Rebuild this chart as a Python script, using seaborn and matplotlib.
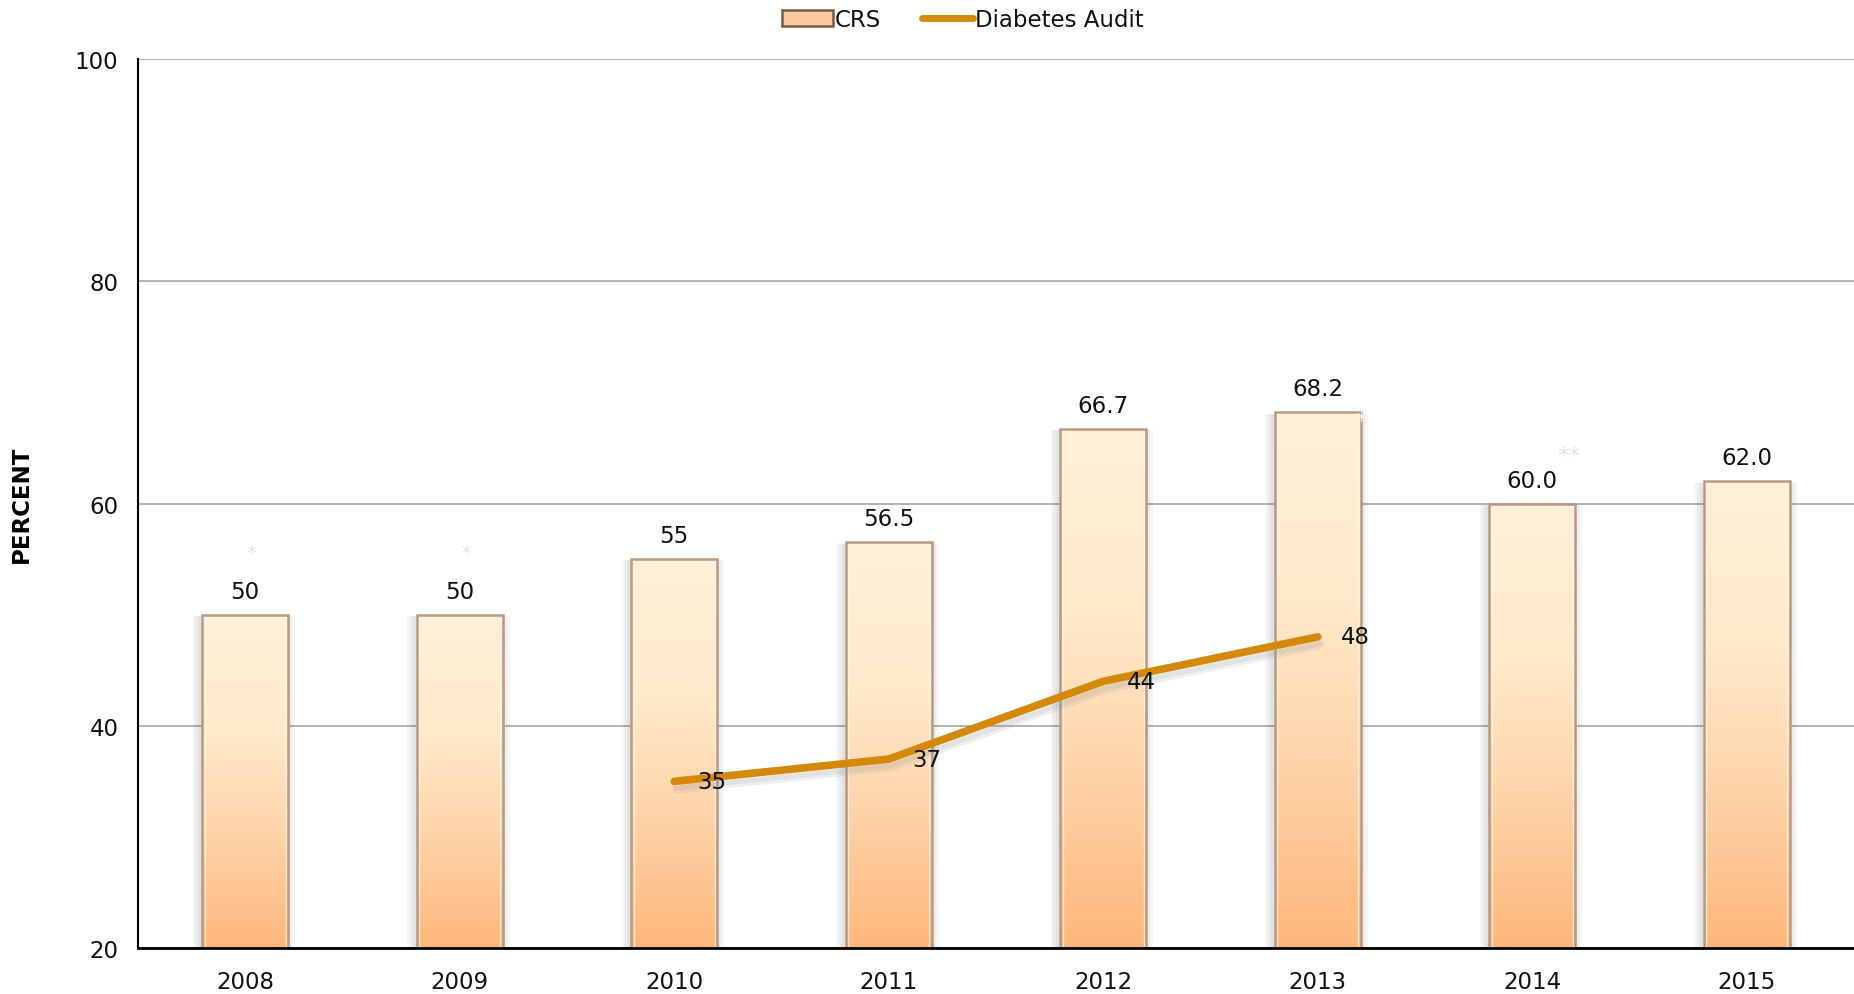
import numpy as np
import pandas as pd
import seaborn as sns
import matplotlib.pyplot as plt
import matplotlib.patheffects as pe
from matplotlib.patches import Rectangle
from matplotlib.lines import Line2D
from matplotlib.colors import LinearSegmentedColormap

# Données
annees = ["2008", "2009", "2010", "2011", "2012", "2013", "2014", "2015"]
crs = [50, 50, 55, 56.5, 66.7, 68.2, 60.0, 62.0]
crs_labels = ["50", "50", "55", "56.5", "66.7", "68.2", "60.0", "62.0"]
audit_annees = ["2010", "2011", "2012", "2013"]
audit = [35, 37, 44, 48]
audit_labels = ["35", "37", "44", "48"]
etoiles = {"2008": "*", "2009": "*", "2013": "*", "2014": "**"}

sns.set_style("white")
plt.rcParams["font.family"] = ["DejaVu Sans"]
taille = 16.5

df_crs = pd.DataFrame({"annee": annees, "valeur": crs})

fig = plt.figure(figsize=(18.54, 9.95), dpi=100)
ax = fig.add_axes([138 / 1854, 1 - 949 / 995, 1 - 138 / 1854, (949 - 60) / 995])

sns.barplot(data=df_crs, x="annee", y="valeur", color="#fdb97d", width=0.4,
            ax=ax, zorder=2, order=annees)

# ombre douce : plusieurs couches légères
ombre = []
for dx in [-7, -5, -3, 3, 5]:
    ombre.append(pe.SimplePatchShadow(offset=(dx, -1), shadow_rgbFace="#555555", alpha=0.06))
ombre.append(pe.Normal())

# dégradé vertical dans chaque barre
grad = LinearSegmentedColormap.from_list("crs", ["#fdb77b", "#fed3a8", "#ffebcc", "#fff0d8"])
col = np.linspace(0, 1, 256).reshape(-1, 1)
for p in ax.patches:
    x0, y0 = p.get_x(), 20
    w, h = p.get_width(), p.get_height()
    p.set_edgecolor("none")
    p.set_path_effects(ombre)
    im = ax.imshow(col, extent=[x0, x0 + w, y0, h], origin="lower", cmap=grad,
                   aspect="auto", zorder=2.1)
    im.set_clip_path(p)
    ax.add_patch(Rectangle((x0, y0), w, h - y0, fill=False, edgecolor="#b89a82",
                           linewidth=1.8, zorder=2.2))
    ax.add_patch(Rectangle((x0 + w * 0.03, y0), w * 0.94, h - y0 - 0.25, fill=False,
                           edgecolor="#fff6ea", linewidth=1.0, alpha=0.7, zorder=2.15))

# étiquettes des barres
for i, (v, lab) in enumerate(zip(crs, crs_labels)):
    ax.annotate(lab, (i, v), xytext=(0, 12), textcoords="offset pixels",
                ha="center", va="bottom", fontsize=taille, color="#111111", zorder=5)

# astérisques (très pâles)
for a, s in etoiles.items():
    i = annees.index(a)
    v = crs[i]
    if a == "2013":
        ax.annotate(s, (i + 0.2, v), xytext=(0, -8), textcoords="offset pixels",
                    ha="center", va="center", fontsize=taille, color="#f4f4f4", zorder=5)
    elif a == "2014":
        ax.annotate(s, (i + 0.17, v), xytext=(0, 48), textcoords="offset pixels",
                    ha="center", va="center", fontsize=taille, color="#e4e4e4", zorder=5)
    else:
        ax.annotate(s, (i + 0.03, v), xytext=(0, 62), textcoords="offset pixels",
                    ha="center", va="center", fontsize=14, color="#e4e4e4", zorder=5)

# courbe Diabetes Audit
xs = [annees.index(a) for a in audit_annees]
ax.plot(xs, audit, color="#d4890a", linewidth=5.5, solid_capstyle="round", zorder=4,
        path_effects=[pe.SimpleLineShadow(offset=(2, -6), shadow_color="#999999", alpha=0.15),
                      pe.SimpleLineShadow(offset=(1, -4), shadow_color="#999999", alpha=0.15),
                      pe.Normal()])
for x, v, lab in zip(xs, audit, audit_labels):
    ax.annotate(lab, (x, v), xytext=(38, 0), textcoords="offset pixels",
                ha="center", va="center", fontsize=taille, color="#111111", zorder=5)

ax.set_xlim(-0.5, 7.5)
ax.set_ylim(20, 100)
ax.set_yticks([20, 40, 60, 80, 100])
ax.yaxis.grid(True, color="#a6a6a6", linewidth=1.2, zorder=0)
ax.set_axisbelow(True)
ax.tick_params(axis="both", length=0, labelsize=taille, pad=14, labelcolor="#111111")
ax.tick_params(axis="x", pad=16)
ax.set_xlabel("")
ax.set_ylabel("PERCENT", fontsize=taille, fontweight="bold", color="black")
ax.yaxis.set_label_coords(-105 / 1716, 0.5)
for s in ["top", "right"]:
    ax.spines[s].set_visible(False)
ax.spines["left"].set_color("black")
ax.spines["left"].set_linewidth(1.5)
ax.spines["bottom"].set_color("black")
ax.spines["bottom"].set_linewidth(2)

handles = [Rectangle((0, 0), 1, 1, facecolor="#f9c9a0", edgecolor="#7a5a45", linewidth=1.8),
           Line2D([], [], color="#d4890a", linewidth=5, solid_capstyle="round")]
fig.legend(handles, ["CRS", "Diabetes Audit"], loc="upper center",
           bbox_to_anchor=(963 / 1854, 1.012), ncol=2, frameon=False, fontsize=taille,
           handlelength=2.2, handletextpad=0.1, columnspacing=1.8, labelcolor="#111111")

fig.savefig("out.png", dpi=100)
